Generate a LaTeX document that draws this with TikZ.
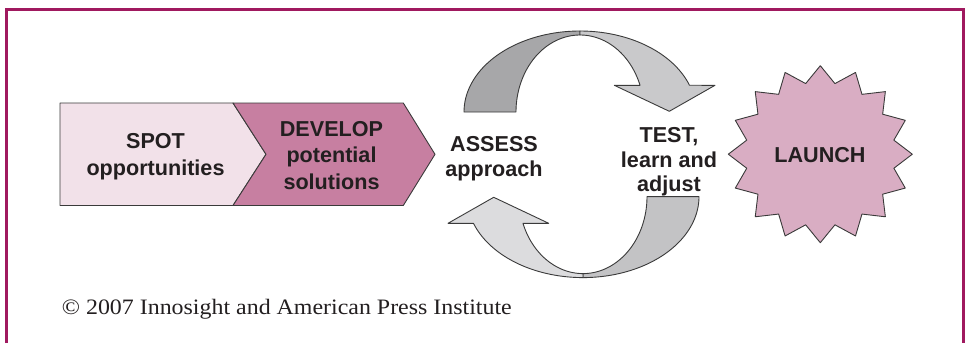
\documentclass[tikz,border=0pt]{standalone}
\usepackage{fontspec}
\usepackage{graphicx}
\newfontfamily\labelsans{Liberation Sans}
\newfontfamily\noteserif{Liberation Serif}

\definecolor{framepurple}{HTML}{A0195F}
\definecolor{spotpink}{HTML}{F2E1E9}
\definecolor{devmauve}{HTML}{C77FA1}
\definecolor{launchpink}{HTML}{D9ADC3}
\definecolor{edgegray}{HTML}{3A3A3A}
\definecolor{inkdark}{HTML}{231F20}
\definecolor{turndark}{HTML}{A7A7A9}
\definecolor{turnmid}{HTML}{C9C9CB}
\definecolor{turnsoft}{HTML}{C3C3C5}
\definecolor{turnpale}{HTML}{DCDCDE}

% One half of the cycle: a ribbon arc (#1 = rear face, #2 = face with head)
\newcommand\halfturn[2]{%
  \draw[outline, fill=#1]
    plot[domain=180:90, samples=50] ({580+116*cos(\x)},{112-81*sin(\x)})
    -- plot[domain=90:180, samples=50] ({580+64*cos(\x)},{112-77*sin(\x)})
    -- cycle;
  \draw[outline, fill=#2]
    plot[domain=90:19.25, samples=50] ({580+116*cos(\x)},{112-81*sin(\x)})
    -- (715,85.3) -- (669.3,111.3) -- (614.3,85.3)
    -- plot[domain=20.29:90, samples=50] ({580+64*cos(\x)},{112-77*sin(\x)})
    -- cycle;
}

\begin{document}
\begin{tikzpicture}[x=1pt, y=-1pt,
  outline/.style={draw=edgegray, line width=0.9pt, line join=round},
  % base anchor of a multi-line label sits on its last line
  lbl/.style={text=inkdark, align=center, anchor=base, inner sep=0pt},
]
\useasboundingbox (0,0) rectangle (966,343);
\fill[white] (0,0) rectangle (966,343);

% open frame
\draw[framepurple, line width=2.8pt, line join=miter]
  (6.2,343) -- (6.2,9.3) -- (963.3,9.3) -- (963.3,343);

% process chevrons
\draw[outline, fill=spotpink]
  (60,103) -- (233,103) -- (266,154.3) -- (233,205.5) -- (60,205.5) -- cycle;
\draw[outline, fill=devmauve]
  (233,103) -- (403.3,103) -- (435,154.3) -- (403.3,205.5) -- (233,205.5) -- (266,154.3) -- cycle;

% assess / test cycle
\begin{scope}
  \halfturn{turndark}{turnmid}
\end{scope}
\begin{scope}[rotate around={180:(581.5,154.3)}]
  \halfturn{turnsoft}{turnpale}
\end{scope}

% launch burst
\draw[outline, fill=launchpink] (820.3,65.7)
  \foreach \k [evaluate=\k as \rx using {mod(\k,2)==1 ? 75 : 92},
               evaluate=\k as \ry using {mod(\k,2)==1 ? 72 : 88.5}] in {1,...,31}
  { -- ({820.3+\rx*sin(\k*11.25)},{154.2-\ry*cos(\k*11.25)}) } -- cycle;

% labels
\node[lbl, font=\labelsans\bfseries\fontsize{21.6}{27}\selectfont] (spot) at (155.5,175) {SPOT\\opportunities};
\node[lbl, font=\labelsans\bfseries\fontsize{21.6}{26.5}\selectfont] (develop) at (331.5,189) {DEVELOP\\potential\\solutions};
\node[lbl, font=\labelsans\bfseries\fontsize{21.6}{25.7}\selectfont] (assess) at (494,176.7) {ASSESS\\approach};
\node[lbl, font=\labelsans\bfseries\fontsize{21.6}{24.5}\selectfont] (test) at (669,191.5) {TEST,\\learn and\\adjust};
\node[lbl, font=\labelsans\bfseries\fontsize{21.6}{26}\selectfont] (launch) at (820,162.7) {LAUNCH};

\node[anchor=base west, inner sep=0pt, text=inkdark, font=\noteserif\fontsize{22}{26}\selectfont]
  (credit) at (61.7,314.3) {\scalebox{1.087}[1]{© 2007 Innosight and American Press Institute}};
\end{tikzpicture}
\end{document}
